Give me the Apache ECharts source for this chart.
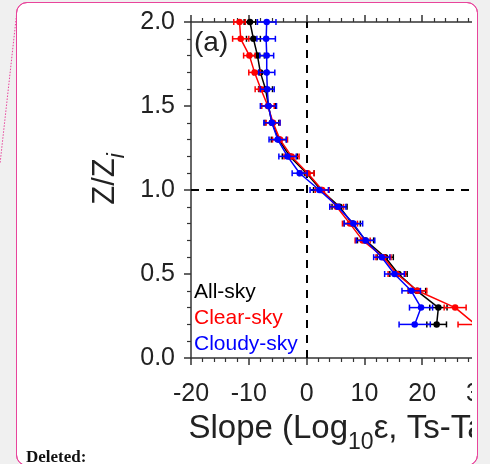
<!DOCTYPE html>
<html>
<head>
<meta charset="utf-8">
<script src="https://cdn.jsdelivr.net/npm/echarts@6/dist/echarts.min.js"></script>
<style>
  html, body { margin:0; padding:0; background:#f0f0f0; width:490px; height:464px; overflow:hidden; }
  #frame { position:absolute; left:16px; top:2px; width:462px; height:464px; border:1px solid #e8449b; border-radius:11px; background:#fff; box-sizing:border-box; }
  #chart { position:absolute; left:0; top:0; width:490px; height:464px; }
  #coverW { position:absolute; left:472px; top:12px; width:6px; height:444px; background:#fff; }
  #coverG { position:absolute; left:478px; top:0; width:12px; height:464px; background:#f0f0f0; }
  #outline { position:absolute; left:16px; top:2px; width:462px; height:464px; border:1px solid #e8449b; border-radius:11px; box-sizing:border-box; pointer-events:none; }
  #deleted { position:absolute; left:26px; top:447px; font-family:'Liberation Serif','DejaVu Serif',serif; font-weight:bold; font-size:17px; color:#111; }
  #dots { position:absolute; left:0; top:0; }
</style>
</head>
<body>
<div id="frame"></div>
<svg id="dots" width="20" height="170"><line x1="16.5" y1="15" x2="0" y2="164" stroke="#e8449b" stroke-width="1" stroke-dasharray="1.5,1.5"/></svg>
<div id="chart"></div>
<div id="coverW"></div>
<div id="coverG"></div>
<div id="outline"></div>
<div id="deleted">Deleted:</div>
<script>
// Heights Z/Zi
const levels = [2.0,1.9,1.8,1.7,1.6,1.5,1.4,1.3,1.2,1.1,1.0,0.9,0.8,0.7,0.6,0.5,0.4,0.3,0.2];
// Slope values
const allSky    = [-9.8,-9.2,-8.5,-8.0,-7.1,-6.6,-6.0,-4.8,-2.9,0.0,2.5,5.7,7.9,10.2,13.6,15.9,19.1,22.8,22.5];
const clearSky  = [-11.6,-11.4,-9.9,-9.0,-7.9,-6.7,-5.8,-4.6,-2.6,0.2,2.7,5.2,7.5,9.7,13.3,15.6,19.2,25.7,29.2];
const cloudySky = [-6.9,-7.0,-6.9,-6.9,-6.8,-6.6,-6.0,-5.0,-3.3,-1.2,2.2,5.4,8.1,10.2,13.0,15.2,18.1,19.8,18.7];
// Error (half-width) values
const allSkyErr    = [1.0,1.2,1.2,1.2,1.2,1.2,1.2,1.3,1.3,1.3,1.3,1.3,1.4,1.4,1.4,1.5,1.5,1.5,1.7];
const clearSkyErr  = [1.0,1.4,1.0,1.0,1.0,1.1,1.2,1.3,1.3,1.1,1.2,1.2,1.3,1.3,1.3,1.5,1.6,1.9,3.0];
const cloudySkyErr = [1.6,1.6,1.2,1.4,1.2,1.4,1.4,1.5,1.5,1.3,1.6,1.4,1.6,1.6,1.4,1.7,1.6,2.0,2.7];
const seriesNames = ['All-sky','Clear-sky','Cloudy-sky'];
const seriesColors = ['#000000','#ff0000','#0000ff'];
const xTicks = [-20,-10,0,10,20,30];
const yTicks = [0.0,0.5,1.0,1.5,2.0];

const FONT = "'Liberation Sans', Arial, sans-serif";
const chart = echarts.init(document.getElementById('chart'), null, {renderer:'canvas'});

const vals = [allSky, clearSky, cloudySky];
const errs = [allSkyErr, clearSkyErr, cloudySkyErr];

function errRender(color){
  return function(params, api){
    const x = api.value(0), y = api.value(1), e = api.value(2);
    const p1 = api.coord([x - e, y]), p2 = api.coord([x + e, y]);
    const h = 3;
    const st = {stroke: color, lineWidth: 1.5};
    return {type:'group', children:[
      {type:'line', shape:{x1:p1[0], y1:p1[1], x2:p2[0], y2:p2[1]}, style:st},
      {type:'line', shape:{x1:p1[0], y1:p1[1]-h, x2:p1[0], y2:p1[1]+h}, style:st},
      {type:'line', shape:{x1:p2[0], y1:p2[1]-h, x2:p2[0], y2:p2[1]+h}, style:st}
    ]};
  };
}

const series = [];
for (let k = 0; k < 3; k++) {
  series.push({
    name: seriesNames[k], type:'custom', renderItem: errRender(seriesColors[k]),
    data: levels.map((l,i)=>[vals[k][i], l, errs[k][i]]),
    encode:{x:0, y:1}, z: 3 + k*2, silent:true, clip:false
  });
  series.push({
    name: seriesNames[k], type:'line',
    data: levels.map((l,i)=>[vals[k][i], l]),
    symbol:'circle', symbolSize:6.5, showSymbol:true,
    lineStyle:{color:seriesColors[k], width:1.5},
    itemStyle:{color:seriesColors[k]},
    z: 4 + k*2, silent:true, animation:false, clip:false,
    markLine: k === 0 ? {
      silent:true, symbol:'none', animation:false,
      label:{show:false},
      lineStyle:{color:'#000', type:[8,7], width:2},
      data:[{xAxis:0},{yAxis:1}]
    } : undefined
  });
}

const axisCommon = {
  type:'value', min:-20, max:30, interval:10,
  axisLine:{show:true, onZero:false, lineStyle:{color:'#333', width:1.5}},
  axisTick:{show:true, inside:false, length:7, lineStyle:{color:'#333', width:1.5}},
  minorTick:{show:true, splitNumber:5, length:4, lineStyle:{color:'#333', width:1.2}},
  splitLine:{show:false}
};

chart.setOption({
  animation:false,
  textStyle:{fontFamily:FONT},
  title:{text:'(a)', left:194, top:29, padding:0, textStyle:{fontSize:28, fontWeight:'normal', color:'#222', fontFamily:FONT}},
  legend:{
    orient:'vertical', left:189, top:282, padding:0, icon:'none', itemWidth:0, itemHeight:20, itemGap:5,
    selectedMode:false,
    textStyle:{fontSize:21, fontFamily:FONT},
    data:seriesNames.map((n,i)=>({name:n, textStyle:{color:seriesColors[i]}}))
  },
  grid:{left:191, right:10, top:22, bottom:106, containLabel:false, outerBoundsMode:'none'},
  xAxis:[
    Object.assign({}, axisCommon, {
      position:'bottom',
      axisLabel:{show:true, fontSize:25, color:'#222', margin:24, fontFamily:FONT,
        formatter:(v)=> xTicks.includes(v) ? String(v) : ''},
      name:'Slope (Log{s|10}ε, Ts-Ta)', nameLocation:'middle', nameGap:45,
      nameTextStyle:{fontSize:33, color:'#222', fontFamily:FONT, padding:[0,0,0,14],
        rich:{s:{fontSize:23, color:'#222', fontFamily:FONT, padding:[28,0,0,0]}}}
    }),
    Object.assign({}, axisCommon, {
      position:'top', axisLabel:{show:false}
    })
  ],
  yAxis:{
    type:'value', min:0, max:2, interval:0.5,
    axisLine:{show:true, onZero:false, lineStyle:{color:'#333', width:1.5}},
    axisTick:{show:true, inside:false, length:7, lineStyle:{color:'#333', width:1.5}},
    minorTick:{show:true, splitNumber:5, length:4, lineStyle:{color:'#333', width:1.2}},
    splitLine:{show:false},
    axisLabel:{fontSize:25, color:'#222', margin:16, fontFamily:FONT, formatter:(v)=>v.toFixed(1)},
    name:'Z/Z{i|i}', nameLocation:'middle', nameGap:62, nameRotate:90,
    nameTextStyle:{fontSize:31, color:'#222', fontFamily:FONT, padding:[0,0,0,22],
      rich:{i:{fontSize:23, fontStyle:'italic', color:'#222', fontFamily:FONT, padding:[24,0,0,0]}}}
  },
  series: series
});
</script>
</body>
</html>
